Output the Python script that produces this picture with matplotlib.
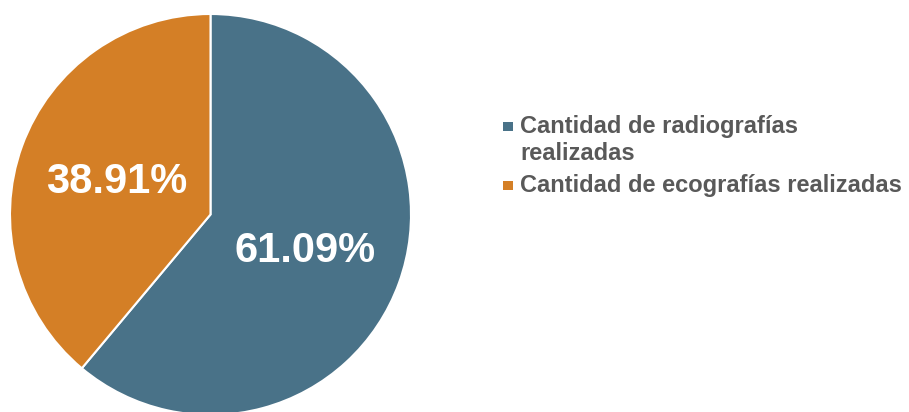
import matplotlib.pyplot as plt
from matplotlib.patches import Rectangle

labels = ["Cantidad de radiografías\nrealizadas", "Cantidad de ecografías realizadas"]
values = [61.09, 38.91]
colors = ["#497288", "#D47F26"]

plt.rcParams['font.family'] = ['Liberation Sans', 'DejaVu Sans']

W, H = 909, 412
fig = plt.figure(figsize=(W / 100, H / 100), dpi=100)

# pie axes placed in pixel terms: centre ~(210.5, 214.5) from top, radius ~200.5
cx, cy, r = 210.5, 214.5, 200.5
ax = fig.add_axes([(cx - r) / W, (H - cy - r) / H, 2 * r / W, 2 * r / H])
wedges, texts, autotexts = ax.pie(
    values, colors=colors, startangle=90, counterclock=False,
    autopct='%.2f%%', pctdistance=0.5, radius=1,
    wedgeprops=dict(edgecolor='white', linewidth=1.5),
    textprops=dict(color='white', fontsize=30, fontweight='bold'))
for t in autotexts:
    x, y = t.get_position()
    t.set_position((x, y - 0.01))
ax.set_xlim(-1, 1)
ax.set_ylim(-1, 1)
ax.set_aspect('equal')
ax.axis('off')

# legend drawn by hand: square marker next to the first line of each label
base_y = 133      # baseline of first legend line, px from top
line_gap = 27     # baseline gap inside one entry
entry_gap = 32    # baseline gap between entries
for label, color in zip(labels, colors):
    fig.patches.append(Rectangle((503 / W, 1 - (base_y - 2) / H), 10 / W, 9 / H,
                                 transform=fig.transFigure, facecolor=color,
                                 edgecolor='none'))
    lines = label.split("\n")
    for i, line in enumerate(lines):
        fig.text(520 / W, 1 - base_y / H, line, fontsize=17, fontweight='bold',
                 color='#595959', va='baseline', ha='left')
        if i < len(lines) - 1:
            base_y += line_gap
    base_y += entry_gap

fig.savefig('out.png', dpi=100)
